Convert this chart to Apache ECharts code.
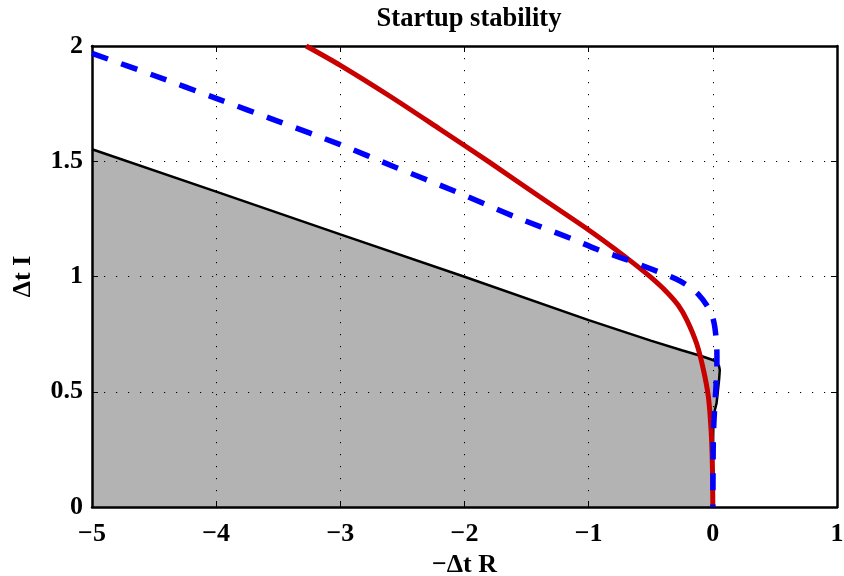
<!DOCTYPE html>
<html>
<head>
<meta charset="utf-8">
<script src="https://cdn.jsdelivr.net/npm/echarts@6/dist/echarts.min.js"></script>
<style>
  html, body { margin: 0; padding: 0; background: #fff; }
  #chart { width: 844px; height: 576px; }
</style>
</head>
<body>
<div id="chart"></div>
<script>
// ---- data ----
const titleText = 'Startup stability';
const xName = '\u2212\u0394t R';
const yName = '\u0394t I';

const xTicks = [-5, -4, -3, -2, -1, 0, 1];
const xTickLabels = ['\u22125', '\u22124', '\u22123', '\u22122', '\u22121', '0', '1'];
const yTicks = [0, 0.5, 1, 1.5, 2];
const yTickLabels = ['0', '0.5', '1', '1.5', '2'];

// stability region boundary (black line, gray fill)
const regionX = [-5, -4, -3, -2, -1, -0.5, -0.25, -0.1, 0, 0.03, 0.05, 0.056, 0.05, 0.04, 0.03, 0.016, 0.004, 0.0, -0.004, -0.004];
const regionY = [1.552, 1.368, 1.183, 0.999, 0.811, 0.722, 0.68, 0.656, 0.638, 0.628, 0.612, 0.594, 0.55, 0.5, 0.45, 0.42, 0.35, 0.2, 0.05, 0];

// red curve
const redX = [-3.275, -3.0, -2.6, -2.2, -1.8, -1.4, -1.0, -0.8, -0.64, -0.5, -0.37, -0.28, -0.21, -0.13, -0.076, -0.036, -0.014, -0.004, 0];
const redY = [2.0, 1.916, 1.782, 1.64, 1.496, 1.348, 1.202, 1.124, 1.058, 0.997, 0.932, 0.876, 0.812, 0.708, 0.596, 0.479, 0.334, 0.19, 0];

// blue dashed curve
const blueX = [-5, -4.5, -4, -3.5, -3, -2.557, -2.082, -1.608, -1.147, -0.932, -0.689, -0.44, -0.3, -0.211, -0.12, -0.037, 0.005, 0.025, 0.033, 0.032, 0.025, 0.017, 0.008, 0.004, 0.002, 0];
const blueY = [1.968, 1.872, 1.773, 1.673, 1.572, 1.474, 1.371, 1.262, 1.166, 1.118, 1.072, 1.021, 0.99, 0.963, 0.925, 0.865, 0.81, 0.74, 0.66, 0.592, 0.52, 0.45, 0.36, 0.3, 0.17, 0];

// ---- build chart ----
const zip = (xs, ys) => xs.map((x, i) => [x, ys[i]]);
const FONT = 'Liberation Serif';
const xLabel = v => { const i = xTicks.findIndex(t => Math.abs(t - v) < 1e-9); return i >= 0 ? xTickLabels[i] : ''; };
const yLabel = v => { const i = yTicks.findIndex(t => Math.abs(t - v) < 1e-9); return i >= 0 ? yTickLabels[i] : ''; };

const gridLine = { show: true, lineStyle: { color: '#000', width: 1, type: [1.2, 10.8] } };
const axLine = { show: true, onZero: false, lineStyle: { color: '#000', width: 2.5 } };
const tick = { show: true, inside: true, length: 6, lineStyle: { color: '#000', width: 1 } };

const chart = echarts.init(document.getElementById('chart'), null, { renderer: 'canvas' });
chart.setOption({
  animation: false,
  backgroundColor: '#fff',
  title: {
    text: titleText, left: 464, top: 1, textAlign: 'center',
    textStyle: { fontFamily: FONT, fontWeight: 'bold', fontSize: 26.5, color: '#000' }
  },
  grid: { left: 92, right: 7, top: 46, bottom: 69, containLabel: false, outerBoundsMode: 'none' },
  xAxis: [{
    type: 'value', min: -5, max: 1, interval: 1, z: 1,
    axisLine: axLine, axisTick: tick, splitLine: gridLine,
    axisLabel: { formatter: xLabel, margin: 14, fontFamily: FONT, fontWeight: 'bold', fontSize: 26, color: '#000' },
    name: xName, nameLocation: 'middle', nameGap: 41,
    nameTextStyle: { fontFamily: FONT, fontWeight: 'bold', fontSize: 26, color: '#000' }
  }, {
    type: 'value', min: -5, max: 1, interval: 1, position: 'top', z: 1,
    axisLine: axLine, axisTick: tick, splitLine: { show: false }, axisLabel: { show: false }
  }],
  yAxis: [{
    type: 'value', min: 0, max: 2, interval: 0.5, z: 1,
    axisLine: axLine, axisTick: tick, splitLine: gridLine,
    axisLabel: { formatter: yLabel, margin: 9, fontFamily: FONT, fontWeight: 'bold', fontSize: 26, color: '#000' },
    name: yName, nameLocation: 'middle', nameGap: 56,
    nameTextStyle: { fontFamily: FONT, fontWeight: 'bold', fontSize: 26, color: '#000' }
  }, {
    type: 'value', min: 0, max: 2, interval: 0.5, position: 'right', z: 1,
    axisLine: axLine, axisTick: tick, splitLine: { show: false }, axisLabel: { show: false }
  }],
  series: [{
    type: 'line', z: 0, data: zip(regionX, regionY), showSymbol: false, symbol: 'none',
    lineStyle: { width: 0 }, areaStyle: { color: '#b3b3b3', opacity: 1 }, silent: true
  }, {
    type: 'line', z: 2, data: zip(regionX, regionY), showSymbol: false, symbol: 'none',
    lineStyle: { color: '#000', width: 2.5 }
  }, {
    type: 'line', z: 3, data: zip(redX, redY), showSymbol: false, symbol: 'none', smooth: 0.3,
    lineStyle: { color: '#c80000', width: 5 }
  }, {
    type: 'line', z: 4, data: zip(blueX, blueY), showSymbol: false, symbol: 'none', smooth: 0.3,
    lineStyle: { color: '#0000ff', width: 5.5, type: [17, 14], cap: 'butt' }
  }]
});
</script>
</body>
</html>
